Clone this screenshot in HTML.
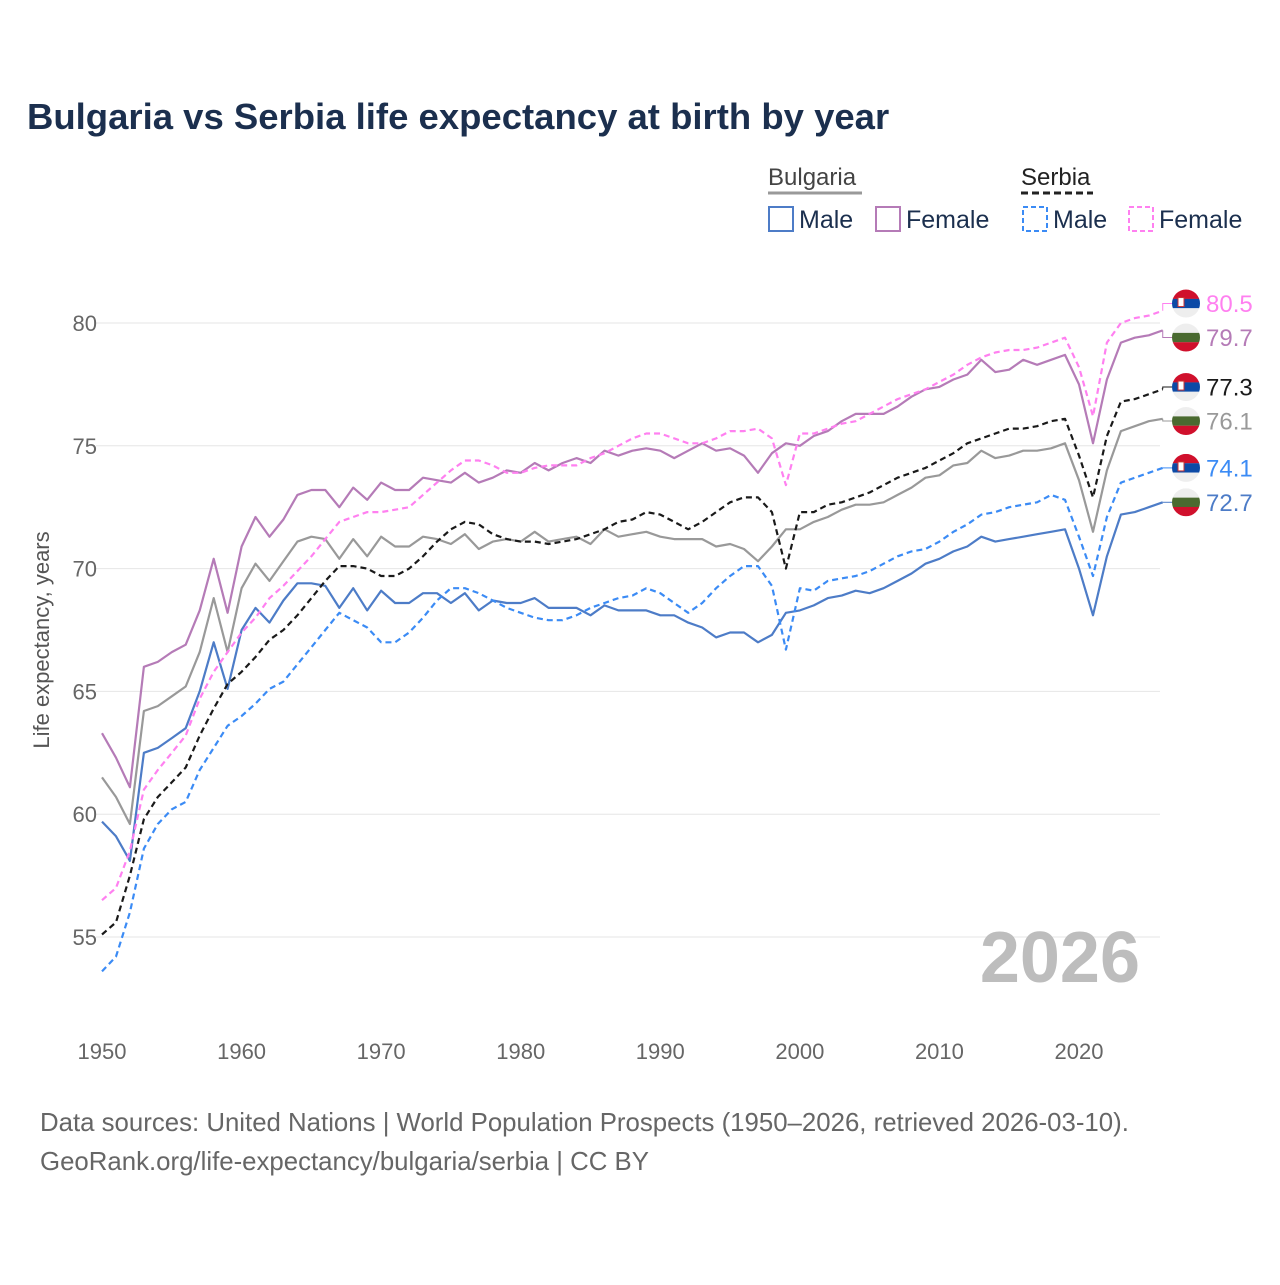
<!DOCTYPE html>
<html><head><meta charset="utf-8"><style>
body{margin:0;background:#fff;}
svg text{font-family:"Liberation Sans",sans-serif;}
</style></head><body>
<svg id="chart" width="1280" height="1280" viewBox="0 0 1280 1280">
<text x="27" y="129" font-size="36.5" font-weight="bold" fill="#1b2f4e">Bulgaria vs Serbia life expectancy at birth by year</text>
<g>
<text x="768" y="185" font-size="24" fill="#444">Bulgaria</text>
<line x1="768" y1="193" x2="862" y2="193" stroke="#999" stroke-width="3"/>
<text x="1021" y="185" font-size="24" fill="#222">Serbia</text>
<line x1="1021" y1="193" x2="1093" y2="193" stroke="#222" stroke-width="3" stroke-dasharray="7,4"/>
<g><rect x="769" y="207" width="24" height="24" fill="none" stroke="#4d7cc7" stroke-width="2"/><text x="799" y="228" font-size="25" fill="#1b2f4e">Male</text></g>
<g><rect x="876" y="207" width="24" height="24" fill="none" stroke="#b57bb7" stroke-width="2"/><text x="906" y="228" font-size="25" fill="#1b2f4e">Female</text></g>
<g><rect x="1023" y="207" width="24" height="24" fill="none" stroke="#3b8bf5" stroke-width="2" stroke-dasharray="5,3"/><text x="1053" y="228" font-size="25" fill="#1b2f4e">Male</text></g>
<g><rect x="1129" y="207" width="24" height="24" fill="none" stroke="#ff80f0" stroke-width="2" stroke-dasharray="5,3"/><text x="1159" y="228" font-size="25" fill="#1b2f4e">Female</text></g>
</g>
<g id="grid"></g>
<g id="axes"></g>
<text x="1140" y="982" font-size="72" font-weight="bold" fill="#bdbdbd" text-anchor="end">2026</text>
<g id="series"></g>
<g id="endlabels"></g>
<text transform="translate(49,640) rotate(-90)" font-size="22" fill="#555" text-anchor="middle">Life expectancy, years</text>
<text x="40" y="1131" font-size="25.8" fill="#666">Data sources: United Nations | World Population Prospects (1950–2026, retrieved 2026-03-10).</text>
<text x="40" y="1170" font-size="25.8" fill="#666">GeoRank.org/life-expectancy/bulgaria/serbia | CC BY</text>
</svg>
<script>
const startYear = 1950;
const xTicks = [1950,1960,1970,1980,1990,2000,2010,2020];
const yTicks = [55,60,65,70,75,80];
const bgMale = [59.7,59.1,58.1,62.5,62.7,63.1,63.5,65.0,67.0,65.1,67.5,68.4,67.8,68.7,69.4,69.4,69.3,68.4,69.2,68.3,69.1,68.6,68.6,69.0,69.0,68.6,69.0,68.3,68.7,68.6,68.6,68.8,68.4,68.4,68.4,68.1,68.5,68.3,68.3,68.3,68.1,68.1,67.8,67.6,67.2,67.4,67.4,67.0,67.3,68.2,68.3,68.5,68.8,68.9,69.1,69.0,69.2,69.5,69.8,70.2,70.4,70.7,70.9,71.3,71.1,71.2,71.3,71.4,71.5,71.6,70.0,68.1,70.5,72.2,72.3,72.5,72.7];
const bgFemale = [63.3,62.3,61.1,66.0,66.2,66.6,66.9,68.3,70.4,68.2,70.9,72.1,71.3,72.0,73.0,73.2,73.2,72.5,73.3,72.8,73.5,73.2,73.2,73.7,73.6,73.5,73.9,73.5,73.7,74.0,73.9,74.3,74.0,74.3,74.5,74.3,74.8,74.6,74.8,74.9,74.8,74.5,74.8,75.1,74.8,74.9,74.6,73.9,74.7,75.1,75.0,75.4,75.6,76.0,76.3,76.3,76.3,76.6,77.0,77.3,77.4,77.7,77.9,78.5,78.0,78.1,78.5,78.3,78.5,78.7,77.5,75.1,77.7,79.2,79.4,79.5,79.7];
const bgTotal = [61.5,60.7,59.6,64.2,64.4,64.8,65.2,66.6,68.8,66.6,69.2,70.2,69.5,70.3,71.1,71.3,71.2,70.4,71.2,70.5,71.3,70.9,70.9,71.3,71.2,71.0,71.4,70.8,71.1,71.2,71.1,71.5,71.1,71.2,71.3,71.0,71.6,71.3,71.4,71.5,71.3,71.2,71.2,71.2,70.9,71.0,70.8,70.3,70.9,71.6,71.6,71.9,72.1,72.4,72.6,72.6,72.7,73.0,73.3,73.7,73.8,74.2,74.3,74.8,74.5,74.6,74.8,74.8,74.9,75.1,73.6,71.5,74.0,75.6,75.8,76.0,76.1];
const rsTotal = [55.1,55.6,57.5,59.8,60.7,61.3,61.9,63.2,64.3,65.3,65.8,66.4,67.1,67.5,68.1,68.8,69.5,70.1,70.1,70.0,69.7,69.7,70.0,70.5,71.1,71.6,71.9,71.8,71.4,71.2,71.1,71.1,71.0,71.1,71.2,71.4,71.6,71.9,72.0,72.3,72.2,71.9,71.6,71.9,72.3,72.7,72.9,72.9,72.3,70.0,72.3,72.3,72.6,72.7,72.9,73.1,73.4,73.7,73.9,74.1,74.4,74.7,75.1,75.3,75.5,75.7,75.7,75.8,76.0,76.1,74.6,72.9,75.4,76.8,76.9,77.1,77.3];
const rsMale = [53.6,54.2,56.0,58.6,59.6,60.2,60.5,61.8,62.7,63.6,64.0,64.5,65.1,65.4,66.1,66.8,67.5,68.2,67.9,67.6,67.0,67.0,67.4,68.0,68.7,69.2,69.2,69.0,68.7,68.4,68.2,68.0,67.9,67.9,68.1,68.4,68.6,68.8,68.9,69.2,69.0,68.6,68.2,68.6,69.2,69.7,70.1,70.1,69.3,66.7,69.2,69.1,69.5,69.6,69.7,69.9,70.2,70.5,70.7,70.8,71.1,71.5,71.8,72.2,72.3,72.5,72.6,72.7,73.0,72.8,71.3,69.7,72.1,73.5,73.7,73.9,74.1];
const rsFemale = [56.5,57.0,58.5,61.0,61.8,62.5,63.2,64.7,65.8,66.6,67.4,68.0,68.8,69.3,69.9,70.5,71.2,71.9,72.1,72.3,72.3,72.4,72.5,73.0,73.5,74.0,74.4,74.4,74.2,73.9,73.9,74.1,74.2,74.2,74.2,74.5,74.7,75.0,75.3,75.5,75.5,75.3,75.1,75.1,75.3,75.6,75.6,75.7,75.3,73.4,75.5,75.5,75.7,75.9,76.0,76.3,76.6,76.9,77.1,77.3,77.6,77.9,78.3,78.6,78.8,78.9,78.9,79.0,79.2,79.4,78.2,76.2,79.2,80.0,80.2,80.3,80.5];

const NS='http://www.w3.org/2000/svg';
const x = yr => 102 + (yr-1950)*(977/70);
const y = v => 323 + (80-v)*(614/25);
function mk(tag, attrs, parent){const e=document.createElementNS(NS,tag);for(const k in attrs)e.setAttribute(k,attrs[k]);parent.appendChild(e);return e;}
const grid=document.getElementById('grid'), axes=document.getElementById('axes');
yTicks.forEach(t=>{
  const l=mk('line',{x1:96,x2:1160,y1:y(t),y2:y(t),stroke:'#e6e6e6','stroke-width':1},grid);
  
  
  const tx=mk('text',{x:97,y:y(t)+8,'font-size':22,fill:'#666','text-anchor':'end'},axes);
  tx.textContent=t;
  
  
});
xTicks.forEach(t=>{
  const tx=mk('text',{x:x(t),y:1059,'font-size':22,fill:'#666','text-anchor':'middle'},axes);
  tx.textContent=t;
  
  
});
const seriesList=[
  {name:'bulgaria-total',d:bgTotal,c:'#999999',dash:null,flag:'bg'},
  {name:'bulgaria-male',d:bgMale,c:'#4d7cc7',dash:null,flag:'bg'},
  {name:'bulgaria-female',d:bgFemale,c:'#b57bb7',dash:null,flag:'bg'},
  {name:'serbia-male',d:rsMale,c:'#3b8bf5',dash:'6,4',flag:'rs'},
  {name:'serbia-female',d:rsFemale,c:'#ff80f0',dash:'6,4',flag:'rs'},
  {name:'serbia-total',d:rsTotal,c:'#1a1a1a',dash:'6,4',flag:'rs'}
];
const sg=document.getElementById('series'), eg=document.getElementById('endlabels');
seriesList.forEach(s=>{
  const pts=s.d.map((v,i)=>x(startYear+i).toFixed(1)+','+y(v).toFixed(1)).join(' ');
  const a={points:pts,fill:'none',stroke:s.c,'stroke-width':2.2,'stroke-linejoin':'round'};
  if(s.dash)a['stroke-dasharray']=s.dash;
  const p=mk('polyline',a,sg);
  
  
});
// end labels, spread symmetrically to avoid overlap
const ends=seriesList.map(s=>({s,v:s.d[s.d.length-1]})).sort((a,b)=>b.v-a.v);
const labelY=ends.map(e=>y(e.v));
const gap=34;
for(let it=0;it<200;it++){
  for(let i=1;i<labelY.length;i++){
    const d=labelY[i]-labelY[i-1];
    if(d<gap){const m=(gap-d)/2;labelY[i-1]-=m;labelY[i]+=m;}
  }
}
ends.forEach((e,i)=>{
  const ly=labelY[i], lx=x(startYear+e.s.d.length-1);
  const g=mk('g',{},eg);
  
  
  mk('polyline',{points:`${lx},${y(e.v)} ${lx},${ly} 1172,${ly}`,fill:'none',stroke:e.s.c,'stroke-width':1},g);
  const cx=1186;
  const cp=mk('clipPath',{id:'cp'+i},g);
  mk('circle',{cx:cx,cy:ly,r:14},cp);
  const gg=mk('g',{'clip-path':`url(#cp${i})`},g);
  const cols=e.s.flag==='bg'?['#eeeeee','#4a6a30','#d0102c']:['#d0102c','#0c4aa6','#eeeeee'];
  cols.forEach((c,k)=>mk('rect',{x:cx-14,y:ly-14+k*9.34,width:28,height:9.4,fill:c},gg));
  if(e.s.flag==='rs'){mk('rect',{x:cx-8,y:ly-6,width:6,height:9,fill:'#fff',stroke:'#c33','stroke-width':1},gg);}
  const t=mk('text',{x:1206,y:ly+8.5,'font-size':24,fill:e.s.c},g);
  t.textContent=e.v.toFixed(1);
});
</script>
</body></html>
